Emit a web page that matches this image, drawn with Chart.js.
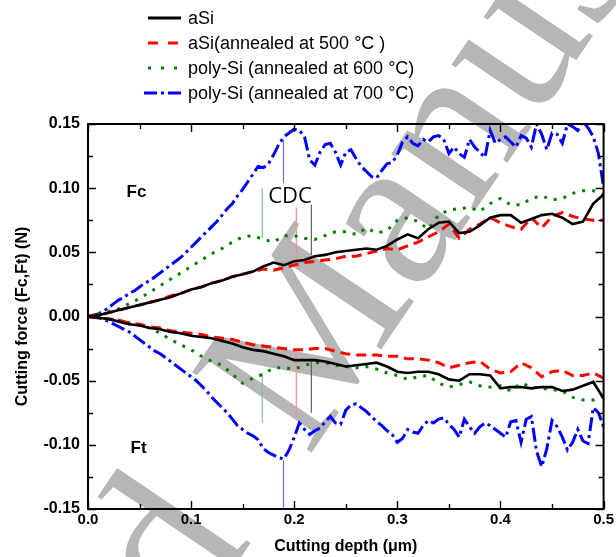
<!DOCTYPE html>
<html>
<head>
<meta charset="utf-8">
<script src="https://cdn.jsdelivr.net/npm/chart.js@4.4.1/dist/chart.umd.min.js"></script>
<style>
  html, body { margin: 0; padding: 0; background: #fff; }
  canvas { display: block; }
</style>
</head>
<body>
<canvas id="chart" width="616" height="557"></canvas>
<script>
// Cutting depth grids (µm)
const depthCoarse = [
  0.00,0.01,0.02,0.03,0.04,0.05,0.06,0.07,0.08,0.09,
  0.10,0.11,0.12,0.13,0.14,0.15,0.16,0.17,0.18,0.19,
  0.20,0.21,0.22,0.23,0.24,0.25,0.26,0.27,0.28,0.29,
  0.30,0.31,0.32,0.33,0.34,0.35,0.36,0.37,0.38,0.39,
  0.40,0.41,0.42,0.43,0.44,0.45,0.46,0.47,0.48,0.49,
  0.50];
const depthFine = [
  0.000,0.005,0.010,0.015,0.020,0.025,0.030,0.035,0.040,0.045,
  0.050,0.055,0.060,0.065,0.070,0.075,0.080,0.085,0.090,0.095,
  0.100,0.105,0.110,0.115,0.120,0.125,0.130,0.135,0.140,0.145,
  0.150,0.155,0.160,0.165,0.170,0.175,0.180,0.185,0.190,0.195,
  0.200,0.205,0.210,0.215,0.220,0.225,0.230,0.235,0.240,0.245,
  0.250,0.255,0.260,0.265,0.270,0.275,0.280,0.285,0.290,0.295,
  0.300,0.305,0.310,0.315,0.320,0.325,0.330,0.335,0.340,0.345,
  0.350,0.355,0.360,0.365,0.370,0.375,0.380,0.385,0.390,0.395,
  0.400,0.405,0.410,0.415,0.420,0.425,0.430,0.435,0.440,0.445,
  0.450,0.455,0.460,0.465,0.470,0.475,0.480,0.485,0.490,0.495,
  0.500];

// Cutting force Fc (N)
const fcASi = [
  0,0.001,0.003,0.005,0.007,0.009,0.011,0.013,0.015,0.018,
  0.021,0.023,0.026,0.028,0.031,0.033,0.035,0.039,0.042,0.040,
  0.043,0.044,0.047,0.048,0.050,0.051,0.052,0.053,0.052,0.055,
  0.060,0.064,0.061,0.068,0.073,0.074,0.065,0.066,0.071,0.077,
  0.079,0.079,0.073,0.076,0.079,0.080,0.077,0.072,0.074,0.088,
  0.095];
const fcASi500 = [
  0,0.001,0.003,0.005,0.007,0.009,0.011,0.013,0.016,0.018,
  0.021,0.023,0.026,0.028,0.031,0.033,0.035,0.037,0.036,0.038,
  0.040,0.042,0.043,0.044,0.045,0.047,0.047,0.049,0.051,0.053,
  0.052,0.055,0.058,0.062,0.066,0.072,0.061,0.068,0.072,0.077,
  0.073,0.070,0.068,0.077,0.069,0.078,0.081,0.078,0.076,0.075,
  0.075];
const fcPoly600 = [
  0,0.002,0.004,0.006,0.010,0.014,0.019,0.024,0.029,0.034,
  0.039,0.044,0.049,0.053,0.058,0.062,0.063,0.060,0.058,0.063,
  0.063,0.061,0.060,0.063,0.066,0.066,0.064,0.069,0.065,0.067,
  0.075,0.077,0.074,0.068,0.079,0.083,0.084,0.085,0.082,0.088,
  0.092,0.087,0.087,0.092,0.094,0.091,0.092,0.096,0.098,0.098,
  0.095];
const fcPoly700 = [
  0,0.001,0.002,0.004,0.007,0.010,0.013,0.015,0.018,0.020,
  0.023,0.026,0.028,0.031,0.034,0.037,0.040,0.043,0.046,0.050,
  0.054,0.058,0.062,0.066,0.070,0.074,0.079,0.084,0.088,0.094,
  0.099,0.105,0.111,0.117,0.116,0.119,0.126,0.134,0.140,0.143,
  0.146,0.145,0.140,0.122,0.118,0.128,0.134,0.135,0.128,0.118,
  0.128,0.130,0.123,0.117,0.113,0.109,0.108,0.114,0.119,0.120,
  0.126,0.136,0.140,0.135,0.133,0.138,0.136,0.140,0.141,0.138,
  0.127,0.132,0.127,0.124,0.138,0.132,0.128,0.124,0.145,0.135,
  0.138,0.140,0.136,0.132,0.141,0.139,0.132,0.150,0.142,0.130,
  0.143,0.142,0.135,0.150,0.148,0.145,0.152,0.147,0.140,0.127,
  0.101];

// Thrust force Ft (N)
const ftASi = [
  0,-0.001,-0.002,-0.004,-0.006,-0.007,-0.009,-0.010,-0.012,-0.013,
  -0.015,-0.016,-0.017,-0.019,-0.021,-0.024,-0.026,-0.027,-0.029,-0.031,
  -0.034,-0.034,-0.034,-0.035,-0.037,-0.039,-0.038,-0.037,-0.036,-0.039,
  -0.043,-0.044,-0.043,-0.043,-0.045,-0.049,-0.050,-0.045,-0.045,-0.046,
  -0.056,-0.055,-0.055,-0.056,-0.055,-0.055,-0.058,-0.057,-0.054,-0.051,
  -0.064];
const ftASi500 = [
  0,-0.001,-0.002,-0.003,-0.005,-0.006,-0.008,-0.009,-0.011,-0.012,
  -0.013,-0.014,-0.016,-0.017,-0.018,-0.020,-0.022,-0.023,-0.024,-0.025,
  -0.026,-0.026,-0.025,-0.025,-0.027,-0.029,-0.030,-0.030,-0.030,-0.031,
  -0.031,-0.033,-0.033,-0.034,-0.036,-0.040,-0.038,-0.036,-0.035,-0.041,
  -0.044,-0.043,-0.036,-0.040,-0.047,-0.043,-0.042,-0.046,-0.046,-0.044,
  -0.048];
const ftPoly600 = [
  0,-0.001,-0.002,-0.003,-0.005,-0.007,-0.009,-0.013,-0.018,-0.022,
  -0.026,-0.031,-0.035,-0.038,-0.045,-0.052,-0.048,-0.045,-0.040,-0.040,
  -0.041,-0.038,-0.036,-0.036,-0.038,-0.039,-0.040,-0.039,-0.041,-0.044,
  -0.046,-0.049,-0.047,-0.046,-0.052,-0.055,-0.053,-0.051,-0.054,-0.055,
  -0.054,-0.058,-0.052,-0.055,-0.056,-0.057,-0.058,-0.063,-0.065,-0.065,
  -0.062];
const ftPoly700 = [
  0,-0.0005,-0.001,-0.002,-0.004,-0.006,-0.008,-0.010,-0.012,-0.015,
  -0.018,-0.021,-0.024,-0.027,-0.029,-0.032,-0.035,-0.038,-0.041,-0.044,
  -0.047,-0.050,-0.054,-0.058,-0.063,-0.067,-0.071,-0.075,-0.080,-0.085,
  -0.088,-0.091,-0.093,-0.096,-0.103,-0.106,-0.108,-0.110,-0.111,-0.104,
  -0.094,-0.083,-0.088,-0.092,-0.089,-0.087,-0.082,-0.078,-0.083,-0.084,
  -0.073,-0.069,-0.068,-0.071,-0.074,-0.078,-0.082,-0.085,-0.089,-0.092,
  -0.098,-0.095,-0.088,-0.090,-0.091,-0.085,-0.081,-0.083,-0.080,-0.079,
  -0.084,-0.088,-0.094,-0.080,-0.086,-0.091,-0.086,-0.083,-0.085,-0.088,
  -0.091,-0.094,-0.082,-0.081,-0.098,-0.080,-0.078,-0.105,-0.117,-0.103,
  -0.081,-0.086,-0.094,-0.104,-0.098,-0.088,-0.097,-0.099,-0.071,-0.075,
  -0.086];

// Series names (legend order)
const seriesNames = [
  'aSi',
  'aSi(annealed at 500 °C )',
  'poly-Si (annealed at 600 °C)',
  'poly-Si (annealed at 700 °C)'
];

// Critical depth of cut (CDC) markers: depth and force span per series
const cdcDepth = [0.2166, 0.202, 0.169, 0.1896];
const cdcFcSpan = [[0.087, 0.048], [0.085, 0.040], [0.100, 0.061], [0.1375, 0.104]];
const cdcFtSpan = [[-0.035, -0.075], [-0.026, -0.078], [-0.044, -0.083], [-0.112, -0.150]];

// Axis tick labels
const xTickLabels = ['0.0', '0.1', '0.2', '0.3', '0.4', '0.5'];
const yTickLabels = ['-0.15', '-0.10', '-0.05', '0.00', '0.05', '0.10', '0.15'];

// Styles
const colors = ['#000000', '#ff0000', '#008000', '#0000ff'];
const widths = [2.6, 3, 3, 3];
const dashes = [[], [10, 6], [3, 7], [14, 4, 3, 4]];
const legendDashes = [[], [10, 10], [3, 10], [13, 4, 3, 4]];
const cdcColors = ['#606060', '#ff8a8a', '#88c488', '#7070ff'];

const SANS = '"Liberation Sans", Arial, sans-serif';

function pts(xs, ys) { return xs.map((x, k) => ({ x: x, y: ys[k] })); }
function curve(i, xs, ys) {
  return {
    label: seriesNames[i], data: pts(xs, ys),
    borderColor: colors[i], borderWidth: widths[i], borderDash: dashes[i],
    borderCapStyle: 'butt', pointRadius: 0, tension: 0, fill: false
  };
}
function marker(i, span) {
  return {
    label: 'CDC', data: [{ x: cdcDepth[i], y: span[0] }, { x: cdcDepth[i], y: span[1] }],
    borderColor: cdcColors[i], borderWidth: 1.2, pointRadius: 0, fill: false
  };
}

const datasets = [
  curve(0, depthCoarse, fcASi), curve(0, depthCoarse, ftASi),
  curve(1, depthCoarse, fcASi500), curve(1, depthCoarse, ftASi500),
  curve(2, depthCoarse, fcPoly600), curve(2, depthCoarse, ftPoly600),
  curve(3, depthFine, fcPoly700), curve(3, depthFine, ftPoly700)
];
for (let i = 0; i < 4; i++) {
  datasets.push(marker(i, cdcFcSpan[i]));
  datasets.push(marker(i, cdcFtSpan[i]));
}

// Page background and the diagonal grey overprint, drawn under everything
const backdrop = {
  id: 'backdrop',
  beforeDraw(chart) {
    const ctx = chart.ctx;
    ctx.save();
    ctx.fillStyle = '#ffffff';
    ctx.fillRect(0, 0, chart.width, chart.height);
    ctx.translate(308, 458);
    ctx.rotate(-56 * Math.PI / 180);
    ctx.font = '220px "Liberation Serif", "Times New Roman", serif';
    ctx.fillStyle = '#b6b6b6';
    ctx.textBaseline = 'alphabetic';
    ctx.textAlign = 'left';
    ctx.fillText('Manuscript', 0, 0);
    ctx.textAlign = 'right';
    ctx.fillText('Accepted', -100, 0);
    ctx.restore();
  }
};

// Box frame with inward major/minor ticks on all four sides
const frame = {
  id: 'frame',
  afterDatasetsDraw(chart) {
    const { ctx, chartArea: a, scales: { x, y } } = chart;
    ctx.save();
    ctx.strokeStyle = '#000';
    ctx.lineWidth = 2;
    ctx.strokeRect(a.left, a.top, a.right - a.left, a.bottom - a.top);
    ctx.lineWidth = 1.4;
    const xt = x.ticks.map(t => t.value);
    const yt = y.ticks.map(t => t.value);
    const xMinor = xt.slice(1).map((v, k) => (v + xt[k]) / 2);
    const yMinor = yt.slice(1).map((v, k) => (v + yt[k]) / 2);
    ctx.beginPath();
    const xTick = (v, len) => {
      const px = Math.round(x.getPixelForValue(v)) + 0.5;
      ctx.moveTo(px, a.bottom); ctx.lineTo(px, a.bottom - len);
      ctx.moveTo(px, a.top); ctx.lineTo(px, a.top + len);
    };
    const yTick = (v, len) => {
      const py = Math.round(y.getPixelForValue(v)) + 0.5;
      ctx.moveTo(a.left, py); ctx.lineTo(a.left + len, py);
      ctx.moveTo(a.right, py); ctx.lineTo(a.right - len, py);
    };
    xt.forEach(v => xTick(v, 8));
    xMinor.forEach(v => xTick(v, 5));
    yt.forEach(v => yTick(v, 8));
    yMinor.forEach(v => yTick(v, 5));
    ctx.stroke();
    ctx.restore();
  }
};

// Panel labels, CDC note and the stacked legend above the plot
const notes = {
  id: 'notes',
  afterDraw(chart) {
    const { ctx, scales: { x, y } } = chart;
    ctx.save();
    ctx.fillStyle = '#000';
    ctx.textAlign = 'center';
    ctx.textBaseline = 'middle';
    ctx.font = 'bold 17px ' + SANS;
    ctx.fillText('Fc', x.getPixelForValue(0.047), y.getPixelForValue(0.097));
    ctx.fillText('Ft', x.getPixelForValue(0.049), y.getPixelForValue(-0.1025));
    ctx.font = '22px "Open Sans", "Noto Sans", sans-serif';
    ctx.fillText('CDC', x.getPixelForValue(0.196), y.getPixelForValue(0.093));

    // legend
    const rowY = [18, 43, 68, 93];
    ctx.textAlign = 'left';
    ctx.font = '18px ' + SANS;
    for (let i = 0; i < 4; i++) {
      ctx.save();
      ctx.strokeStyle = colors[i];
      ctx.lineWidth = 3;
      ctx.setLineDash(legendDashes[i]);
      ctx.beginPath();
      const x0 = i === 3 ? 144 : 148;
      ctx.moveTo(x0, rowY[i]);
      ctx.lineTo(181, rowY[i]);
      ctx.stroke();
      ctx.restore();
      ctx.fillStyle = '#000';
      ctx.fillText(seriesNames[i], 188, rowY[i] + 1);
    }
    ctx.restore();
  }
};

new Chart(document.getElementById('chart'), {
  type: 'line',
  data: { datasets: datasets },
  options: {
    responsive: false,
    animation: false,
    devicePixelRatio: 1,
    layout: { padding: { left: 0, right: 11, top: 124, bottom: 0 } },
    plugins: { legend: { display: false }, tooltip: { enabled: false } },
    scales: {
      x: {
        type: 'linear', min: 0, max: 0.5,
        afterFit(s) { s.height = 48; },
        grid: { display: false, drawTicks: false },
        border: { display: false },
        ticks: {
          stepSize: 0.1, padding: 2, color: '#000',
          font: { family: SANS, size: 15, weight: 'bold' },
          callback: (v, i) => xTickLabels[i]
        },
        title: {
          display: true, text: 'Cutting depth (μm)', color: '#000',
          font: { family: SANS, size: 16, weight: 'bold' },
          padding: { top: 0, bottom: 1 }
        }
      },
      y: {
        type: 'linear', min: -0.15, max: 0.15,
        afterFit(s) { s.width = 88; },
        grid: { display: false, drawTicks: false },
        border: { display: false },
        ticks: {
          stepSize: 0.05, padding: 8, color: '#000',
          font: { family: SANS, size: 16, weight: 'bold' },
          callback: (v, i) => yTickLabels[i]
        },
        title: {
          display: true, text: 'Cutting force (Fc,Ft) (N)', color: '#000',
          font: { family: SANS, size: 16, weight: 'bold' },
          padding: { top: 13, bottom: 0 }
        }
      }
    }
  },
  plugins: [backdrop, frame, notes]
});
</script>
</body>
</html>
